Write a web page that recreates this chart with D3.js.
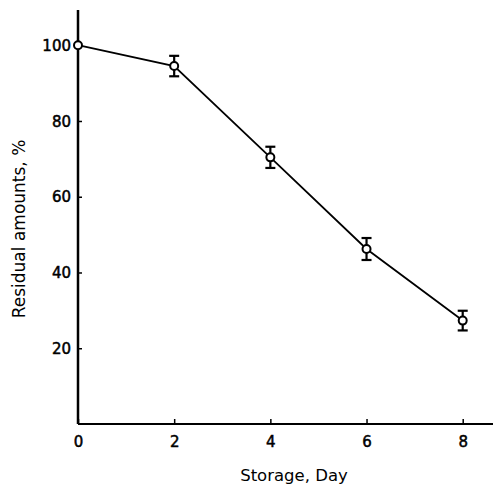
<!DOCTYPE html>
<html><head><meta charset="utf-8">
<script src="https://cdn.jsdelivr.net/npm/d3@7"></script>
<style>body{margin:0;background:#fff}</style>
</head><body>
<svg id="c" width="493" height="489"></svg>
<script>
const days = [0, 2, 4, 6, 8];
const residual = [100, 94.5, 70.4, 46.2, 27.3];
const errors = [0, 2.7, 2.8, 2.9, 2.6];
const xTicks = [0, 2, 4, 6, 8];
const yTicks = [20, 40, 60, 80, 100];

const svg = d3.select("#c");
const font = "'DejaVu Sans', sans-serif";
const x = d3.scaleLinear().domain([0, 8.63]).range([78, 493]);
const y = d3.scaleLinear().domain([0, 109.3]).range([424, 10]);

// axes lines
svg.append("line").attr("x1", x(0)).attr("x2", x(0)).attr("y1", y(109.3)).attr("y2", y(0))
  .attr("stroke", "#000").attr("stroke-width", 2.5);
svg.append("line").attr("x1", x(0)).attr("x2", x(8.63)).attr("y1", y(0)).attr("y2", y(0))
  .attr("stroke", "#000").attr("stroke-width", 2);

const yAxis = d3.axisRight(y).tickValues(yTicks).tickSize(4).tickFormat(d3.format("d"));
const gy = svg.append("g").attr("transform", `translate(${x(0)},0)`).call(yAxis);
gy.select(".domain").remove();
gy.selectAll(".tick line").attr("stroke-width", 1.5);
gy.selectAll(".tick text").attr("text-anchor", "end").attr("x", -7).attr("dy", "0.35em")
  .style("font-family", font).style("font-size", "15px").attr("fill", "#000")
  .attr("stroke", "#000").attr("stroke-width", 0.5);

const xAxis = d3.axisTop(x).tickValues(xTicks).tickSize(5).tickFormat(d3.format("d"));
const gx = svg.append("g").attr("transform", `translate(0,${y(0)})`).call(xAxis);
gx.select(".domain").remove();
gx.selectAll(".tick line").attr("stroke-width", 1.5);
gx.selectAll(".tick text").attr("y", 23).attr("dy", "0").style("font-family", font)
  .style("font-size", "15px").attr("fill", "#000")
  .attr("stroke", "#000").attr("stroke-width", 0.5);

// line
const line = d3.line().x((d, i) => x(days[i])).y(d => y(d));
svg.append("path").datum(residual).attr("d", line).attr("fill", "none")
  .attr("stroke", "#000").attr("stroke-width", 1.8);

// error bars
const eb = svg.append("g");
days.forEach((d, i) => {
  if (errors[i] <= 0) return;
  const cx = x(d), top = y(residual[i] + errors[i]), bot = y(residual[i] - errors[i]);
  eb.append("line").attr("x1", cx).attr("x2", cx).attr("y1", top).attr("y2", bot)
    .attr("stroke", "#000").attr("stroke-width", 2.2);
  [top, bot].forEach(yy => eb.append("line").attr("x1", cx - 5).attr("x2", cx + 5)
    .attr("y1", yy).attr("y2", yy).attr("stroke", "#000").attr("stroke-width", 2.2));
});

// markers
svg.append("g").selectAll("circle").data(residual).join("circle")
  .attr("cx", (d, i) => x(days[i])).attr("cy", d => y(d)).attr("r", 4)
  .attr("fill", "#fff").attr("stroke", "#000").attr("stroke-width", 2);

// labels
svg.append("text").attr("x", 294).attr("y", 481).attr("text-anchor", "middle")
  .style("font-family", font).style("font-size", "16.5px").text("Storage, Day");
svg.append("text").attr("transform", "translate(25,229) rotate(-90)").attr("text-anchor", "middle")
  .style("font-family", font).style("font-size", "17px").text("Residual amounts, %");
</script>
</body></html>
